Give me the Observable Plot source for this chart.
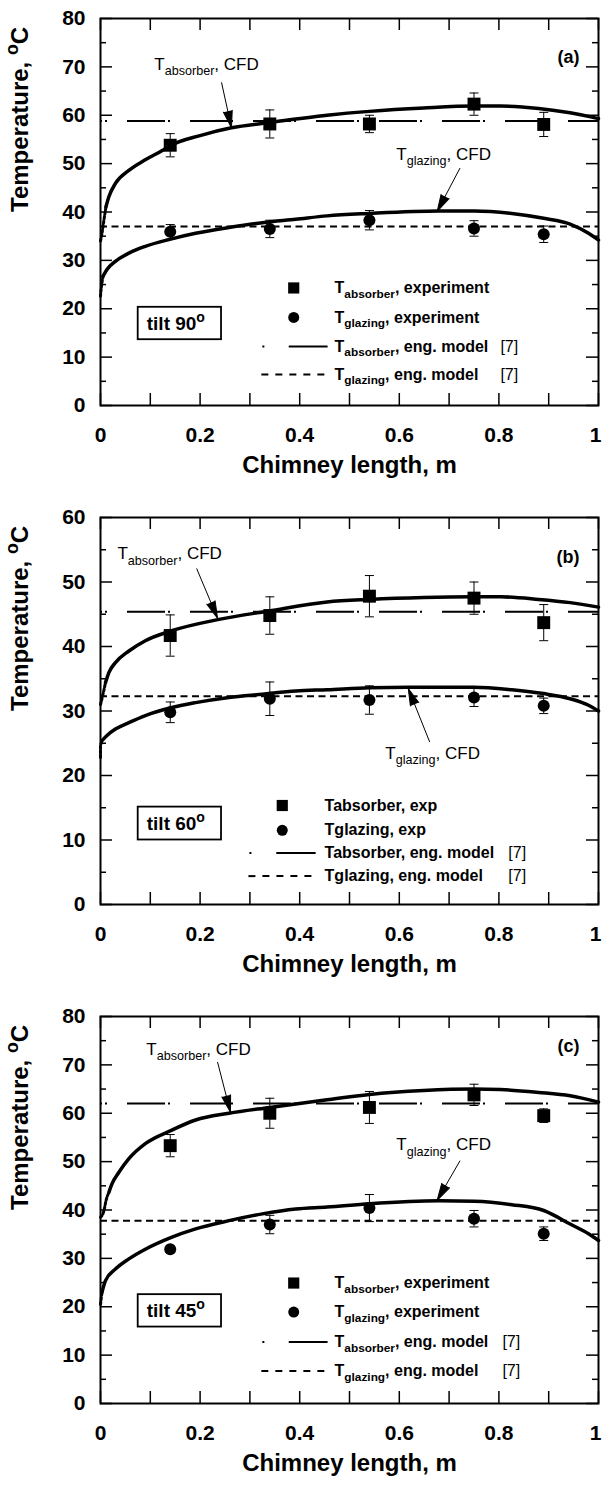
<!DOCTYPE html>
<html><head><meta charset="utf-8">
<script src="https://cdn.jsdelivr.net/npm/d3@7"></script>
<script src="https://cdn.jsdelivr.net/npm/@observablehq/plot@0.6"></script>
<style>
body{margin:0;background:#fff;}
#chart svg{display:block;}
</style></head><body><div id="chart"></div>
<script>
// ---------- data ----------
const xExp = [0.14, 0.34, 0.54, 0.75, 0.89];

// panel (a) tilt 90
const absExpA = [53.8, 58.2, 58.2, 62.3, 58.1];
const absErrA = [2.4, 2.9, 1.8, 2.3, 2.5];
const glzExpA = [35.9, 36.5, 38.3, 36.6, 35.4];
const glzErrA = [1.5, 1.8, 2.0, 1.6, 1.7];
const absEngA = 58.8;
const glzEngA = 37.0;
const cfdAbsXA = [0, 0.002, 0.007, 0.011, 0.017, 0.03, 0.057, 0.09, 0.124, 0.14, 0.2, 0.263, 0.34, 0.455, 0.54, 0.649, 0.75, 0.803, 0.88, 0.943, 1.0];
const cfdAbsYA = [34.0, 35.0, 38.4, 41.1, 43.2, 45.9, 48.6, 50.8, 52.7, 53.7, 55.8, 57.4, 58.5, 60.0, 60.8, 61.5, 61.9, 61.9, 61.4, 60.5, 59.3];
const cfdGlzXA = [0, 0.002, 0.005, 0.013, 0.03, 0.057, 0.09, 0.141, 0.191, 0.258, 0.325, 0.392, 0.455, 0.54, 0.68, 0.75, 0.826, 0.89, 0.943, 0.98, 1.0];
const cfdGlzYA = [22.6, 24.7, 26.7, 28.1, 29.8, 31.5, 32.9, 34.4, 35.6, 36.8, 37.8, 38.5, 39.2, 39.7, 40.2, 40.2, 39.7, 38.7, 37.5, 35.6, 34.2];

// panel (b) tilt 60
const absExpB = [41.7, 44.8, 47.8, 47.5, 43.7];
const absErrB = [3.2, 2.9, 3.2, 2.5, 2.8];
const glzExpB = [29.8, 31.9, 31.7, 32.1, 30.8];
const glzErrB = [1.6, 2.6, 2.2, 1.4, 1.2];
const absEngB = 45.4;
const glzEngB = 32.3;
const cfdAbsXB = [0, 0.005, 0.010, 0.017, 0.03, 0.057, 0.09, 0.141, 0.238, 0.338, 0.455, 0.54, 0.649, 0.75, 0.803, 0.88, 0.943, 1.0];
const cfdAbsYB = [31.0, 32.6, 34.4, 36.0, 37.5, 39.3, 40.9, 42.4, 44.2, 45.5, 46.9, 47.3, 47.6, 47.7, 47.7, 47.3, 46.8, 46.1];
const cfdGlzXB = [0, 0, 0.003, 0.013, 0.03, 0.057, 0.09, 0.141, 0.191, 0.258, 0.325, 0.392, 0.455, 0.54, 0.618, 0.75, 0.826, 0.89, 0.943, 0.98, 1.0];
const cfdGlzYB = [22.8, 24.4, 25.4, 26.2, 27.2, 28.2, 29.3, 30.5, 31.3, 32.1, 32.6, 33.1, 33.3, 33.6, 33.7, 33.7, 33.3, 32.7, 31.9, 30.9, 30.0];

// panel (c) tilt 45
const absExpC = [53.3, 60.0, 61.2, 63.8, 59.5];
const absErrC = [2.3, 3.1, 3.3, 2.2, 1.4];
const glzExpC = [31.9, 37.0, 40.4, 38.2, 35.1];
const glzErrC = [0.6, 1.9, 2.8, 1.7, 1.4];
const absEngC = 62.0;
const glzEngC = 37.8;
const cfdAbsXC = [0, 0.007, 0.011, 0.017, 0.023, 0.037, 0.057, 0.09, 0.141, 0.191, 0.258, 0.34, 0.455, 0.54, 0.649, 0.75, 0.803, 0.88, 0.943, 1.0];
const cfdAbsYC = [38.5, 39.9, 41.9, 43.7, 45.4, 47.8, 50.6, 53.7, 56.4, 58.6, 60.0, 61.2, 62.8, 63.9, 64.7, 65.0, 64.9, 64.3, 63.6, 62.3];
const cfdGlzXC = [0, 0.003, 0.010, 0.030, 0.057, 0.09, 0.141, 0.191, 0.258, 0.325, 0.392, 0.455, 0.54, 0.68, 0.75, 0.826, 0.89, 0.943, 0.98, 1.0];
const cfdGlzYC = [20.5, 23.0, 25.4, 27.8, 29.9, 31.9, 34.3, 36.1, 37.8, 39.2, 40.2, 40.6, 41.3, 41.9, 41.8, 41.1, 39.9, 37.1, 35.1, 33.7];

// ticks
const xTickLabels = [0, 0.2, 0.4, 0.6, 0.8];
const xTickLast = [1];
const xTicks = [0, 0.1, 0.2, 0.3, 0.4, 0.5, 0.6, 0.7, 0.8, 0.9, 1];
const yTicks80 = [0, 10, 20, 30, 40, 50, 60, 70, 80];
const yMinor80 = [5, 15, 25, 35, 45, 55, 65, 75];
const yTicks60 = [0, 10, 20, 30, 40, 50, 60];
const yMinor60 = [5, 15, 25, 35, 45, 55];

const legendFull = ["T_{absorber}, experiment", "T_{glazing}, experiment", "T_{absorber}, eng. model", "T_{glazing}, eng. model"];
const legendShort = ["Tabsorber, exp", "Tglazing, exp", "Tabsorber, eng. model", "Tglazing, eng. model"];

// ---------- layout ----------
const FONT = "'Liberation Sans', Arial, Helvetica, sans-serif";
const W = 602, H = 499, ML = 100, MR = 4, MT = 18, MB = 94;
const PW = W - ML - MR, PH = H - MT - MB;

const panels = [
  {ymax: 80, yTicks: yTicks80, yMinor: yMinor80, tag: "(a)", tagY: 70.9, tilt: "tilt 90^{o}", box: [0.0757, 0.243, 13.6, 20.3],
   absExp: absExpA, absErr: absErrA, glzExp: glzExpA, glzErr: glzErrA, absEng: absEngA, glzEng: glzEngA,
   cfdAbsX: cfdAbsXA, cfdAbsY: cfdAbsYA, absDot: 4, cfdGlzX: cfdGlzXA, cfdGlzY: cfdGlzYA, glzDot: 3,
   ann: [{t: "T_{absorber}, CFD", x: 0.108, y: 69.3, tail: [0.243, 66.8], tip: [0.263, 57.4]},
         {t: "T_{glazing}, CFD", x: 0.594, y: 50.8, tail: [0.722, 49.1], tip: [0.676, 40.1]}],
   leg: {texts: legendFull, mx: 0.388, tx: 0.47, rows: [24.3, 18.2, 12.2, 6.4], dot: 0.325, l1: 0.378, l2: 0.456, d1: 0.323, ref: 0.803}},
  {ymax: 60, yTicks: yTicks60, yMinor: yMinor60, tag: "(b)", tagY: 52.9, tilt: "tilt 60^{o}", box: [0.0757, 0.243, 10.0, 15.1],
   absExp: absExpB, absErr: absErrB, glzExp: glzExpB, glzErr: glzErrB, absEng: absEngB, glzEng: glzEngB,
   cfdAbsX: cfdAbsXB, cfdAbsY: cfdAbsYB, absDot: 3, cfdGlzX: cfdGlzXB, cfdGlzY: cfdGlzYB, glzDot: 3,
   ann: [{t: "T_{absorber}, CFD", x: 0.034, y: 53.5, tail: [0.193, 52.1], tip: [0.235, 44.4]},
         {t: "T_{glazing}, CFD", x: 0.572, y: 22.5, tail: [0.661, 25.2], tip: [0.618, 33.5]}],
   leg: {texts: legendShort, mx: 0.365, tx: 0.45, rows: [15.35, 11.5, 8.0, 4.4], dot: 0.299, l1: 0.353, l2: 0.432, d1: 0.297, ref: 0.819}},
  {ymax: 80, yTicks: yTicks80, yMinor: yMinor80, tag: "(c)", tagY: 72.6, tilt: "tilt 45^{o}", box: [0.0757, 0.243, 15.8, 22.5],
   absExp: absExpC, absErr: absErrC, glzExp: glzExpC, glzErr: glzErrC, absEng: absEngC, glzEng: glzEngC,
   cfdAbsX: cfdAbsXC, cfdAbsY: cfdAbsYC, absDot: 4, cfdGlzX: cfdGlzXC, cfdGlzY: cfdGlzYC, glzDot: 2,
   ann: [{t: "T_{absorber}, CFD", x: 0.092, y: 72.1, tail: [0.235, 70.6], tip: [0.261, 60.2]},
         {t: "T_{glazing}, CFD", x: 0.594, y: 52.3, tail: [0.722, 50.2], tip: [0.676, 42.0]}],
   leg: {texts: legendFull, mx: 0.388, tx: 0.47, rows: [24.9, 18.9, 12.7, 6.7], dot: 0.325, l1: 0.378, l2: 0.456, d1: 0.323, ref: 0.807}}
];

const capSymbol = {draw(ctx, size) { const r = Math.sqrt(size / Math.PI); ctx.moveTo(-r, 0); ctx.lineTo(r, 0); }};

function richText(svg) {
  svg.querySelectorAll("text").forEach(t => {
    const s = t.textContent;
    if (!/[_^]\{/.test(s)) return;
    const holder = t.closest("[font-size]");
    const fs = holder ? parseFloat(holder.getAttribute("font-size")) : 16;
    while (t.firstChild) t.removeChild(t.firstChild);
    let shift = 0;
    const add = (str, kind) => {
      if (!str) return;
      const ts = document.createElementNS("http://www.w3.org/2000/svg", "tspan");
      const target = kind === "_" ? fs * 0.3 : kind === "^" ? -fs * 0.42 : 0;
      const d = target - shift;
      if (d) ts.setAttribute("dy", d.toFixed(2));
      shift = target;
      if (kind) ts.setAttribute("font-size", (fs * 0.74).toFixed(2));
      ts.textContent = str;
      t.appendChild(ts);
    };
    const re = /([_^])\{([^}]*)\}/g;
    let last = 0, m;
    while ((m = re.exec(s))) { add(s.slice(last, m.index), null); add(m[2], m[1]); last = re.lastIndex; }
    add(s.slice(last), null);
  });
}

function panel(p) {
  const ky = PH / p.ymax, kx = PW;
  const absPts = xExp.map((x, i) => ({x, y: p.absExp[i], e: p.absErr[i]}));
  const glzPts = xExp.map((x, i) => ({x, y: p.glzExp[i], e: p.glzErr[i]}));
  const errPts = absPts.concat(glzPts);
  const cfdAbs = p.cfdAbsX.map((x, i) => ({x, y: p.cfdAbsY[i]}));
  const cfdGlz = p.cfdGlzX.map((x, i) => ({x, y: p.cfdGlzY[i]}));
  const arrows = p.ann.map(a => ({x1: a.tail[0], y1: a.tail[1], x2: a.tip[0], y2: a.tip[1],
    rot: Math.atan2((a.tip[0] - a.tail[0]) * kx, (a.tip[1] - a.tail[1]) * ky) * 180 / Math.PI}));
  const L = p.leg;
  const legRows = L.texts.map((t, i) => ({t, y: L.rows[i]}));
  const box = p.box;
  const black = "black";

  const svg = Plot.plot({
    width: W, height: H, marginLeft: ML, marginRight: MR, marginTop: MT, marginBottom: MB,
    style: {fontFamily: FONT, color: "black", background: "white"},
    x: {domain: [0, 1]},
    y: {domain: [0, p.ymax]},
    marks: [
      // eng. model lines
      Plot.ruleY([p.absEng], {y: d => d, stroke: black, strokeWidth: 2, strokeDasharray: "38,3,2,20", strokeDashoffset: 36}),
      Plot.ruleY([p.glzEng], {y: d => d, stroke: black, strokeWidth: 2, strokeDasharray: "7,4.5"}),
      // CFD curves
      Plot.line(cfdAbs.slice(p.absDot - 1), {x: "x", y: "y", stroke: black, strokeWidth: 3.5, curve: "monotone-x"}),
      Plot.line(cfdAbs.slice(0, p.absDot), {x: "x", y: "y", stroke: black, strokeWidth: 3, strokeDasharray: "2.5,2", curve: "monotone-x"}),
      Plot.line(cfdGlz.slice(p.glzDot - 1), {x: "x", y: "y", stroke: black, strokeWidth: 3.5, curve: "monotone-x"}),
      Plot.line(cfdGlz.slice(0, p.glzDot), {x: "x", y: "y", stroke: black, strokeWidth: 3, strokeDasharray: "2.5,2", curve: "monotone-y"}),
      // error bars
      Plot.ruleX(errPts, {x: "x", y1: d => d.y - d.e, y2: d => d.y + d.e, stroke: black, strokeWidth: 1}),
      Plot.dot(errPts, {x: "x", y: d => d.y - d.e, symbol: capSymbol, r: 4.5, stroke: black, strokeWidth: 1}),
      Plot.dot(errPts, {x: "x", y: d => d.y + d.e, symbol: capSymbol, r: 4.5, stroke: black, strokeWidth: 1}),
      // experiment markers
      Plot.dot(absPts, {x: "x", y: "y", symbol: "square", r: 7.3, fill: black, stroke: null}),
      Plot.dot(glzPts, {x: "x", y: "y", symbol: "circle", r: 6, fill: black, stroke: null}),
      // annotations
      Plot.text(p.ann, {x: "x", y: "y", text: "t", textAnchor: "start", lineAnchor: "bottom", fontSize: 17, fill: black}),
      Plot.link(arrows, {x1: "x1", y1: "y1", x2: "x2", y2: "y2", stroke: black, strokeWidth: 1}),
      Plot.vector(arrows, {x: "x2", y: "y2", rotate: "rot", length: 17, r: 4.5, shape: "spike", anchor: "end", stroke: black, fill: black, fillOpacity: 1, strokeWidth: 1}),
      // panel tag
      Plot.text([p.tag], {x: 0.962, y: p.tagY, text: d => d, textAnchor: "end", lineAnchor: "bottom", fontSize: 18, fontWeight: "bold", fill: black}),
      // tilt box
      Plot.rect([box], {x1: d => d[0], x2: d => d[1], y1: d => d[2], y2: d => d[3], fill: "white", stroke: black, strokeWidth: 1.8}),
      Plot.text([p.tilt], {x: (box[0] + box[1]) / 2, y: (box[2] + box[3]) / 2, text: d => d, fontSize: 19, fontWeight: "bold", fill: black, dx: -4}),
      // legend
      Plot.dot([legRows[0]], {x: L.mx, y: "y", symbol: "square", r: 6.3, fill: black, stroke: null}),
      Plot.dot([legRows[1]], {x: L.mx, y: "y", symbol: "circle", r: 5.5, fill: black, stroke: null}),
      Plot.link([legRows[2]], {x1: L.dot, x2: L.l2, y1: "y", y2: "y", stroke: black, strokeWidth: 2, strokeDasharray: `2,${((L.l1 - L.dot) * kx - 2).toFixed(1)},200`}),
      Plot.link([legRows[3]], {x1: L.d1, x2: L.l2, y1: "y", y2: "y", stroke: black, strokeWidth: 2, strokeDasharray: "7,7"}),
      Plot.text(legRows, {x: L.tx, y: "y", text: "t", textAnchor: "start", fontSize: 16, fontWeight: "bold", fill: black}),
      Plot.text(legRows.slice(2), {x: L.ref, y: "y", text: () => "[7]", textAnchor: "start", fontSize: 16, fill: black}),
      // ticks (inward)
      Plot.tickX(xTicks, {x: d => d, insetTop: PH - 12, stroke: black, strokeWidth: 1.5}),
      Plot.tickX(xTicks, {x: d => d, insetBottom: PH - 12, stroke: black, strokeWidth: 1.5}),
      Plot.tickY(p.yTicks, {y: d => d, insetRight: PW - 12, stroke: black, strokeWidth: 1.5}),
      Plot.tickY(p.yTicks, {y: d => d, insetLeft: PW - 12, stroke: black, strokeWidth: 1.5}),
      Plot.tickY(p.yMinor, {y: d => d, insetRight: PW - 6, stroke: black, strokeWidth: 1.5}),
      Plot.tickY(p.yMinor, {y: d => d, insetLeft: PW - 6, stroke: black, strokeWidth: 1.5}),
      Plot.frame({stroke: black, strokeWidth: 2}),
      // axes
      Plot.axisX({ticks: xTickLabels, tickFormat: d => String(d), tickSize: 0, tickPadding: 22, fontSize: 21, fontWeight: "bold", label: null, fill: black}),
      Plot.text(xTickLast, {x: d => d, frameAnchor: "bottom", lineAnchor: "top", dy: 22, textAnchor: "end", dx: 3, text: d => String(d), fontSize: 21, fontWeight: "bold", fill: black}),
      Plot.axisY({ticks: p.yTicks, tickFormat: d => String(d), tickSize: 0, tickPadding: 15, fontSize: 21, fontWeight: "bold", label: null, fill: black}),
      Plot.text(["Chimney length, m"], {frameAnchor: "bottom", dy: 67, fontSize: 24, fontWeight: "bold", fill: black}),
      Plot.text(["Temperature, ^{o}C"], {frameAnchor: "left", dx: -80, rotate: -90, fontSize: 24, fontWeight: "bold", fill: black})
    ]
  });
  richText(svg);
  return svg;
}

const root = document.getElementById("chart");
panels.forEach(p => root.appendChild(panel(p)));
</script></body></html>
